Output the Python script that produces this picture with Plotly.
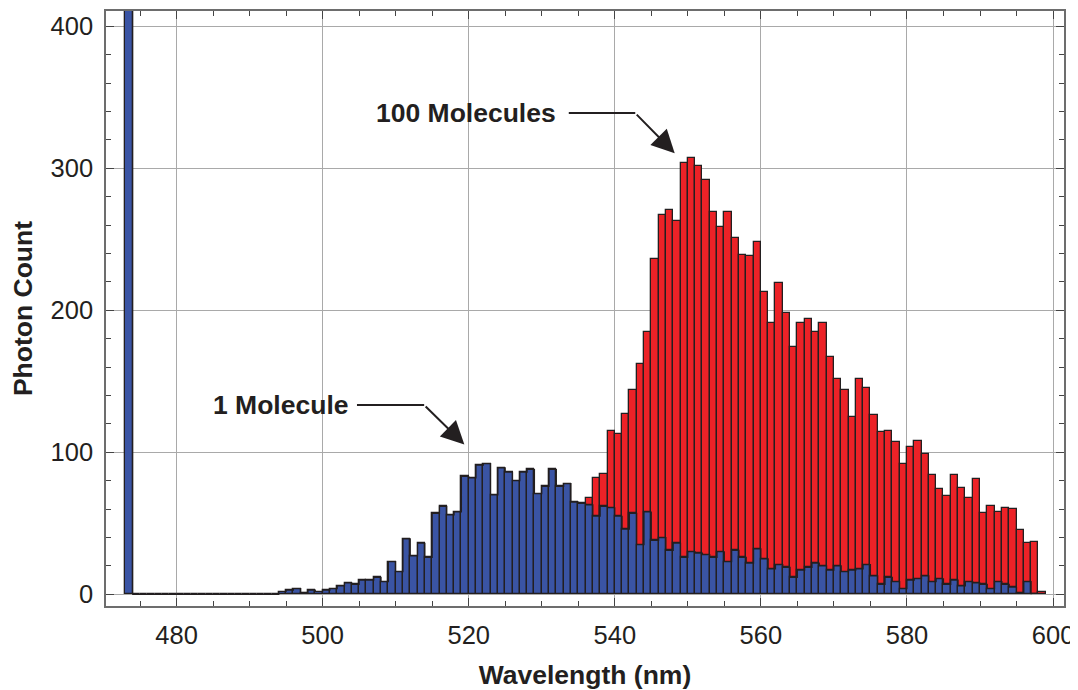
import plotly.graph_objects as go

# ---- data (1 nm bins; value = photon count of bin starting at that wavelength) ----
blue_nm = list(range(473, 598))
blue_counts = [
    450,
    0, 0, 0, 0, 0, 0, 0, 0, 0, 0, 0, 0, 0, 0, 0, 0, 0, 0, 0, 0,
    2, 3, 4, 1, 3, 2, 3, 4, 6, 8,          # 494-503
    7, 10, 10, 12, 9, 23, 16, 39, 27, 36,   # 504-513
    26, 57, 62, 56, 58, 83, 82, 91, 92, 70, # 514-523
    89, 86, 80, 86, 88, 71, 76, 88, 76, 78, # 524-533
    65, 64, 63, 55, 62, 61, 55, 46, 57, 35, # 534-543
    58, 38, 40, 31, 36, 26, 30, 29, 28, 26, # 544-553
    30, 23, 31, 26, 22, 32, 25, 18, 21, 19, # 554-563
    12, 17, 19, 22, 20, 17, 20, 16, 17, 18, # 564-573
    21, 13, 7, 12, 9, 4, 10, 11, 13, 9,     # 574-583
    11, 7, 10, 6, 9, 8, 7, 4, 9, 7,         # 584-593
    5, 1, 9, 0,                             # 594-597
]
red_nm = list(range(536, 599))
red_counts = [
    68, 82, 85, 115, 113, 127, 144, 162, 185, 236,
    267, 271, 263, 304, 307, 302, 292, 269, 259, 269,
    251, 239, 238, 248, 213, 191, 219, 198, 174, 191,
    194, 185, 191, 167, 152, 144, 125, 152, 145, 126,
    114, 115, 107, 92, 104, 108, 99, 84, 74, 69,
    84, 75, 68, 81, 57, 62, 58, 61, 60, 45,
    36, 37, 2,
]
x_tick_vals = [480, 500, 520, 540, 560, 580, 600]
y_tick_vals = [0, 100, 200, 300, 400]

BLUE = "#3a54a4"
RED = "#ec2227"
EDGE = "#231f20"
TXT = "#231f20"
FONT = "Liberation Sans, Arial, sans-serif"

fig = go.Figure()
fig.add_trace(go.Bar(x=red_nm, y=red_counts, width=1, offset=0,
                     marker=dict(color=RED, line=dict(color=EDGE, width=1.3)),
                     name="100 Molecules", showlegend=False))
fig.add_trace(go.Bar(x=blue_nm, y=blue_counts, width=1, offset=0,
                     marker=dict(color=BLUE, line=dict(color=EDGE, width=1.3)),
                     name="1 Molecule", showlegend=False))
# outline of the blue histogram (shows the empty bins along zero)
fig.add_trace(go.Scatter(x=blue_nm, y=blue_counts, mode="lines",
                         line=dict(shape="hv", color=EDGE, width=1.2),
                         hoverinfo="skip", showlegend=False))

# page body has an 8 px margin, so the figure is sized to fit inside the window
fig.update_layout(
    barmode="overlay", bargap=0,
    width=1070, height=682,
    margin=dict(l=98, r=14, t=3, b=84, autoexpand=False),
    paper_bgcolor="white", plot_bgcolor="white",
    font=dict(family=FONT, color=TXT, size=25),
)

axis_common = dict(
    automargin=False,
    showline=True, linecolor="#6d6d6d", linewidth=1.5, mirror="ticks",
    ticks="inside", ticklen=8, tickwidth=1, tickcolor="#444444",
    showgrid=True, gridcolor="#a9a9a9", gridwidth=1, zeroline=False,
    tickfont=dict(family=FONT, size=25.5, color=TXT),
)
fig.update_xaxes(range=[470.34, 601.5], tickvals=x_tick_vals,
                 minor=dict(dtick=5, tick0=480, ticklen=5, ticks="inside", tickcolor="#444444", showgrid=False),
                 title=dict(text="<b>Wavelength (nm)</b>", font=dict(size=26.5, family=FONT, color=TXT), standoff=17),
                 ticklabelstandoff=6, **axis_common)
fig.update_yaxes(range=[-8.2, 410.8], tickvals=y_tick_vals,
                 minor=dict(dtick=20, tick0=0, ticklen=5, ticks="inside", tickcolor="#444444", showgrid=False),
                 title=dict(text="<b>Photon Count</b>", font=dict(size=26.5, family=FONT, color=TXT), standoff=11),
                 ticklabelstandoff=6, **axis_common)

# annotations: labels with bent arrows
def bent_label(text, tx, ty, x0, x1, hx, hy):
    fig.add_annotation(x=tx, y=ty, xref="x", yref="y", text="<b>%s</b>" % text,
                       showarrow=False, font=dict(size=26.5, family=FONT, color=TXT))
    fig.add_shape(type="line", xref="x", yref="y", x0=x0, y0=ty, x1=x1, y1=ty,
                  line=dict(color=TXT, width=2))
    fig.add_annotation(x=hx, y=hy, ax=x1, ay=ty, xref="x", yref="y", axref="x", ayref="y",
                       text="", showarrow=True, arrowhead=2, arrowsize=2.3, arrowwidth=2,
                       arrowcolor=TXT)

bent_label("100 Molecules", 519.6, 338.9, 533.7, 542.8, 548.2, 310.6)
bent_label("1 Molecule", 494.3, 133.3, 504.7, 513.9, 519.4, 105.6)

fig.write_html("out.html")
